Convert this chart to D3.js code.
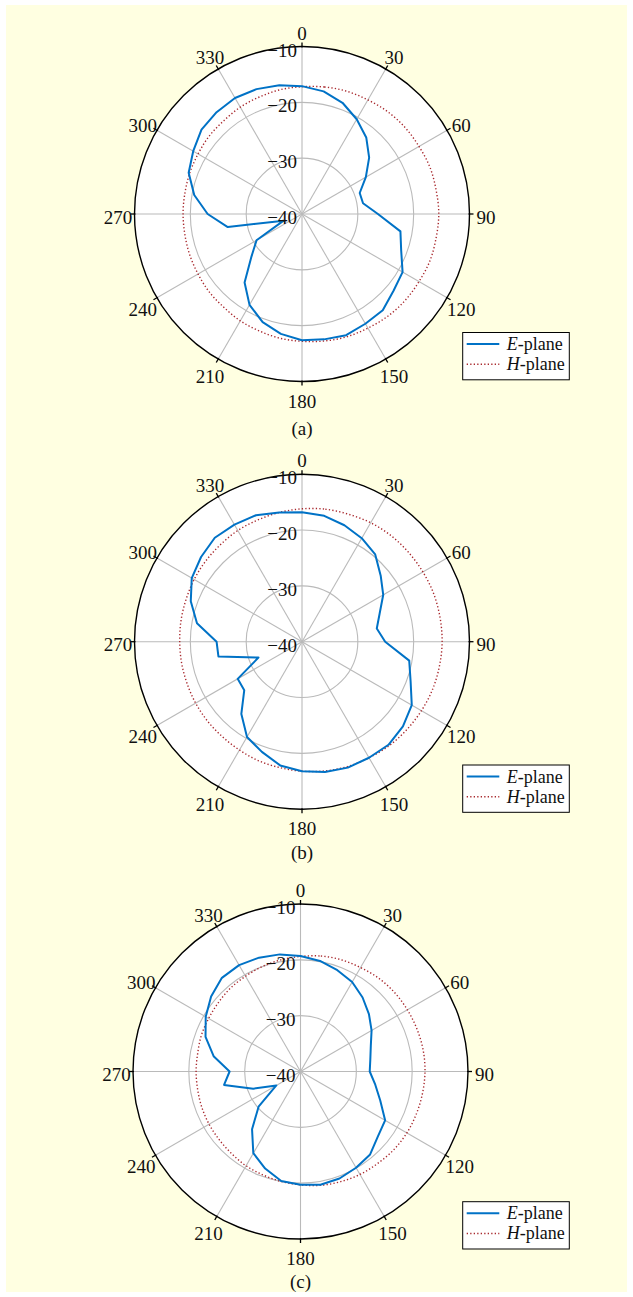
<!DOCTYPE html>
<html>
<head>
<meta charset="utf-8">
<script src="https://cdn.jsdelivr.net/npm/d3@7"></script>
<style>
  html, body { margin: 0; padding: 0; background: #ffffff; }
  svg { display: block; }
  text { font-family: "Liberation Serif", "Times New Roman", serif; fill: #111; }
</style>
</head>
<body>
<svg id="chart" width="633" height="1297"></svg>
<script>
// Measurement angles (degrees, clockwise from 0 at the top)
const angleDeg = [0, 10, 20, 30, 40, 50, 60, 70, 80, 90, 100, 110, 120, 130, 140, 150, 160, 170,
                  180, 190, 200, 210, 220, 230, 240, 250, 260, 270, 280, 290, 300, 310, 320, 330, 340, 350];

// Normalised patterns in dB, panel (a)
const ePlaneA = [-17.1, -17.7, -18.8, -20.4, -22.1, -24.3, -26.8, -29.0, -28.9, -26.4, -22.1, -21.1,
                 -19.2, -18.6, -17.5, -17.3, -16.9, -17.2, -17.4, -18.2, -19.4, -21.2, -24.0, -28.2,
                 -30.6, -36.5, -26.5, -23.1, -20.4, -18.4, -17.5, -16.5, -16.2, -16.0, -16.2, -16.6];
const hPlaneA = [-17.2, -16.9, -16.6, -16.4, -16.1, -15.9, -15.8, -15.6, -15.6, -15.5, -15.6, -15.6,
                 -15.8, -15.9, -16.1, -16.4, -16.6, -16.9, -17.2, -17.4, -17.7, -17.9, -18.2, -18.3,
                 -18.5, -18.6, -18.7, -18.7, -18.7, -18.6, -18.5, -18.3, -18.2, -17.9, -17.7, -17.4];

// Panel (b)
const ePlaneB = [-16.8, -17.1, -17.8, -18.6, -19.6, -21.6, -23.2, -25.2, -26.4, -25.1, -20.5, -19.3,
                 -17.3, -16.4, -15.9, -16.0, -16.0, -16.3, -16.8, -17.5, -19.0, -20.3, -23.1, -26.5,
                 -26.7, -31.7, -24.8, -24.7, -20.9, -18.8, -17.2, -16.4, -15.7, -15.8, -15.9, -16.5];
const hPlaneB = [-16.2, -15.9, -15.7, -15.4, -15.2, -15.1, -15.0, -14.9, -14.9, -14.9, -15.0, -15.1,
                 -15.3, -15.5, -15.7, -16.0, -16.2, -16.5, -16.8, -17.1, -17.3, -17.6, -17.8, -17.9,
                 -18.0, -18.1, -18.1, -18.1, -18.0, -17.9, -17.7, -17.5, -17.3, -17.0, -16.8, -16.5];

// Panel (c)
const ePlaneC = [-19.3, -19.9, -20.7, -21.5, -22.7, -24.0, -25.3, -26.6, -27.3, -27.6, -26.4, -24.8,
                 -22.5, -21.9, -20.6, -20.1, -19.6, -19.4, -19.7, -20.1, -21.5, -23.1, -26.5, -30.2,
                 -35.0, -31.0, -26.1, -27.3, -24.2, -21.9, -20.4, -19.1, -18.1, -18.0, -18.3, -18.7];
const hPlaneC = [-19.4, -19.0, -18.7, -18.5, -18.2, -18.0, -17.9, -17.8, -17.7, -17.7, -17.8, -17.9,
                 -18.0, -18.2, -18.5, -18.7, -19.0, -19.3, -19.7, -20.0, -20.3, -20.5, -20.8, -21.0,
                 -21.1, -21.2, -21.3, -21.3, -21.3, -21.1, -21.0, -20.8, -20.5, -20.3, -20.0, -19.7];

// Axis ticks and labels
const angleTicks = [0, 30, 60, 90, 120, 150, 180, 210, 240, 270, 300, 330];
const radialTicks = [-40, -30, -20, -10];
const radialDomain = [-40, -10];
const seriesNames = ["E", "H"];
const panelCaptions = ["(a)", "(b)", "(c)"];

const R = 167.5;
const rScale = d3.scaleLinear().domain(radialDomain).range([0, R]);
const rad = d => d * Math.PI / 180;

const svg = d3.select("#chart");

// pale paper background
svg.append("rect")
  .attr("x", 6).attr("y", 5).attr("width", 621).attr("height", 1287)
  .attr("fill", "#ffffe1");

const panels = [
  { e: ePlaneA, h: hPlaneA, cx: 302,   cy: 214,    legendY: 332.5,  captionY: 428 },
  { e: ePlaneB, h: hPlaneB, cx: 302,   cy: 641.7,  legendY: 765,    captionY: 852 },
  { e: ePlaneC, h: hPlaneC, cx: 300.5, cy: 1071.5, legendY: 1201.7, captionY: 1281 }
];

const E_COLOR = "#0072c6";
const H_COLOR = "#a8282d";
const GRID = "#bababa";
const FS = 19;

const lineE = d3.lineRadial()
  .angle((d, i) => rad(angleDeg[i]))
  .radius(d => rScale(d))
  .curve(d3.curveLinearClosed);

const lineH = d3.lineRadial()
  .angle((d, i) => rad(angleDeg[i]))
  .radius(d => rScale(d))
  .curve(d3.curveCardinalClosed);

panels.forEach((p, k) => {
  const g = svg.append("g").attr("transform", `translate(${p.cx},${p.cy})`);

  // plot disc
  g.append("circle").attr("r", R).attr("fill", "#ffffff");

  // grid rings
  g.selectAll("circle.ring")
    .data(radialTicks.filter(v => v > radialDomain[0] && v < radialDomain[1]))
    .join("circle").attr("class", "ring")
    .attr("r", d => rScale(d))
    .attr("fill", "none").attr("stroke", GRID).attr("stroke-width", 1.1);

  // spokes
  g.selectAll("line.spoke")
    .data(angleTicks)
    .join("line").attr("class", "spoke")
    .attr("x1", 0).attr("y1", 0)
    .attr("x2", d => R * Math.sin(rad(d)))
    .attr("y2", d => -R * Math.cos(rad(d)))
    .attr("stroke", GRID).attr("stroke-width", 1.1);

  // H-plane (dotted)
  g.append("path")
    .attr("d", lineH(p.h))
    .attr("fill", "none")
    .attr("stroke", H_COLOR)
    .attr("stroke-width", 1.4)
    .attr("stroke-dasharray", "1.3 2.2");

  // E-plane (solid)
  g.append("path")
    .attr("d", lineE(p.e))
    .attr("fill", "none")
    .attr("stroke", E_COLOR)
    .attr("stroke-width", 2)
    .attr("stroke-linejoin", "round");

  // outer boundary
  g.append("circle").attr("r", R)
    .attr("fill", "none").attr("stroke", "#000").attr("stroke-width", 1.4);

  // angular ticks
  g.selectAll("line.tick")
    .data(angleTicks)
    .join("line").attr("class", "tick")
    .attr("x1", d => (R - 1) * Math.sin(rad(d)))
    .attr("y1", d => -(R - 1) * Math.cos(rad(d)))
    .attr("x2", d => (R + 4) * Math.sin(rad(d)))
    .attr("y2", d => -(R + 4) * Math.cos(rad(d)))
    .attr("stroke", "#000").attr("stroke-width", 1.3);

  // angular labels
  const L = 184;
  g.selectAll("text.ang")
    .data(angleTicks)
    .join("text").attr("class", "ang")
    .attr("x", d => L * Math.sin(rad(d)))
    .attr("y", d => -L * Math.cos(rad(d)) + 3)
    .attr("dy", "0.35em")
    .attr("text-anchor", "middle")
    .attr("font-size", FS)
    .text(d => d);

  // radial labels along the 0° spoke
  g.selectAll("text.rad")
    .data(radialTicks)
    .join("text").attr("class", "rad")
    .attr("x", -5)
    .attr("y", d => -rScale(d) + 3.5)
    .attr("dy", "0.35em")
    .attr("text-anchor", "end")
    .attr("font-size", FS)
    .text(d => d3.format("")(d).replace("-", "\u2212"));

  // caption
  svg.append("text")
    .attr("x", p.cx).attr("y", p.captionY)
    .attr("dy", "0.35em")
    .attr("text-anchor", "middle")
    .attr("font-size", FS)
    .text(panelCaptions[k]);

  // legend
  const lg = svg.append("g").attr("transform", `translate(462.7,${p.legendY})`);
  lg.append("rect").attr("width", 106.6).attr("height", 47.3)
    .attr("fill", "#ffffff").attr("stroke", "#000").attr("stroke-width", 1);
  seriesNames.forEach((name, i) => {
    const y = 11.5 + i * 20.3;
    lg.append("line")
      .attr("x1", 4).attr("x2", 36.6).attr("y1", y).attr("y2", y)
      .attr("stroke", i === 0 ? E_COLOR : H_COLOR)
      .attr("stroke-width", i === 0 ? 2 : 1.4)
      .attr("stroke-dasharray", i === 0 ? null : "1.3 2.2");
    const t = lg.append("text")
      .attr("x", 44).attr("y", y + 6)
      .attr("font-size", 18);
    t.append("tspan").attr("font-style", "italic").text(name);
    t.append("tspan").text("-plane");
  });
});
</script>
</body>
</html>
